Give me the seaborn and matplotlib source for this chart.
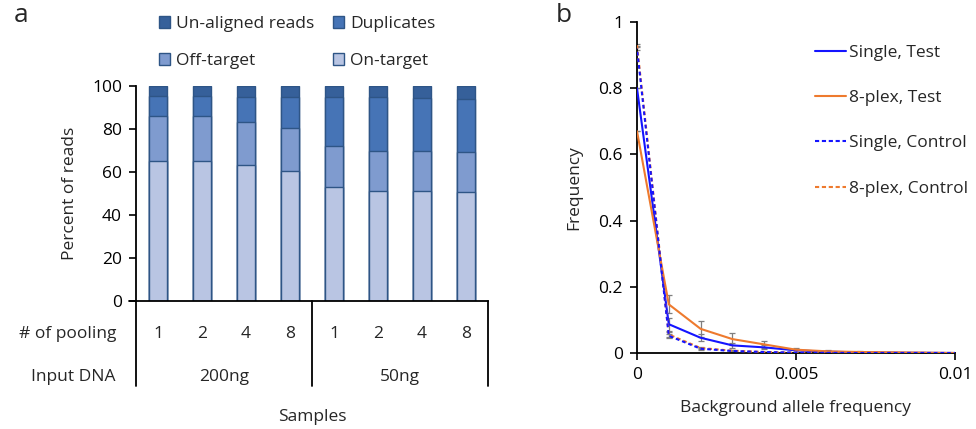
import numpy as np
import pandas as pd
import matplotlib
matplotlib.use("Agg")
import matplotlib.pyplot as plt
import matplotlib.transforms as mtransforms
from matplotlib.patches import Patch
from matplotlib.lines import Line2D
import seaborn as sns

# ---------------- data ----------------
sample_ids = ["S1", "S2", "S3", "S4", "S5", "S6", "S7", "S8"]
pooling = ["1", "2", "4", "8", "1", "2", "4", "8"]
input_dna = ["200ng", "50ng"]
on_target = [65.1, 65.1, 63.3, 60.3, 53.1, 51.1, 51.1, 50.6]
off_target = [20.9, 20.9, 20.0, 20.3, 19.0, 18.7, 18.7, 18.5]
duplicates = [9.4, 9.2, 11.8, 14.5, 22.8, 25.0, 24.6, 25.0]
unaligned = [4.6, 4.8, 4.9, 4.9, 5.1, 5.2, 5.6, 5.9]

bg_freq = [0.0, 0.001, 0.002, 0.003, 0.004, 0.005, 0.006, 0.007, 0.008, 0.009, 0.01]
single_test = [0.80, 0.087, 0.046, 0.023, 0.017, 0.008, 0.004, 0.002, 0.001, 0.0005, 0.0]
plex_test = [0.67, 0.147, 0.073, 0.042, 0.026, 0.010, 0.005, 0.003, 0.002, 0.001, 0.0]
single_ctrl = [0.92, 0.052, 0.013, 0.006, 0.003, 0.001, 0.0005, 0.0, 0.0, 0.0, 0.0]
plex_ctrl = [0.93, 0.056, 0.015, 0.007, 0.003, 0.001, 0.0005, 0.0, 0.0, 0.0, 0.0]
single_test_err = [0.0, 0.02, 0.01, 0.008, 0.006, 0.004, 0.002, 0.001, 0.001, 0.0, 0.0]
plex_test_err = [0.0, 0.027, 0.025, 0.018, 0.010, 0.006, 0.004, 0.002, 0.002, 0.001, 0.0]
single_ctrl_err = [0.004, 0.006, 0.003, 0.002, 0.001, 0.001, 0.0, 0.0, 0.0, 0.0, 0.0]
plex_ctrl_err = [0.004, 0.007, 0.003, 0.002, 0.001, 0.001, 0.0, 0.0, 0.0, 0.0, 0.0]

# ---------------- style ----------------
sns.set_theme(style="ticks")
plt.rcParams["font.family"] = ["Open Sans", "DejaVu Sans"]
plt.rcParams["axes.edgecolor"] = "black"
plt.rcParams["axes.linewidth"] = 1.3
plt.rcParams["xtick.color"] = "black"
plt.rcParams["ytick.color"] = "black"

FS = 12.5
c_on = "#B9C5E3"
c_off = "#7F9BCF"
c_dup = "#4674B6"
c_una = "#36609A"
c_edge = "#2E5586"

fig = plt.figure(figsize=(9.76, 4.29), dpi=100)
W, H = 976, 429

def ax_rect(x0, y0, x1, y1):
    return [x0 / W, 1 - y1 / H, (x1 - x0) / W, (y1 - y0) / H]

# ---------------- panel a ----------------
ax = fig.add_axes(ax_rect(136, 86, 488, 301))
df = pd.DataFrame({
    "sample": sample_ids,
    "on": on_target,
    "off": off_target,
    "dup": duplicates,
    "una": unaligned,
})
df["c_on"] = df["on"]
df["c_off"] = df["c_on"] + df["off"]
df["c_dup"] = df["c_off"] + df["dup"]
df["c_una"] = df["c_dup"] + df["una"]

for col, colr in [("c_una", c_una), ("c_dup", c_dup), ("c_off", c_off), ("c_on", c_on)]:
    sns.barplot(data=df, x="sample", y=col, order=sample_ids, color=colr,
                saturation=1, width=0.41, edgecolor=c_edge, linewidth=1.0, ax=ax)

ax.set_xlim(-0.5, 7.5)
ax.set_ylim(0, 100)
ax.set_yticks([0, 20, 40, 60, 80, 100])
ax.set_yticklabels(["0", "20", "40", "60", "80", "100"], fontsize=FS)
ax.set_xticks([])
ax.set_xlabel("")
ax.set_ylabel("Percent of reads", fontsize=FS, labelpad=10)
ax.tick_params(axis="y", direction="out", length=5, width=1.2, pad=5)
sns.despine(ax=ax)

trans = mtransforms.blended_transform_factory(ax.transData, ax.transAxes)
for i, p in enumerate(pooling):
    ax.text(i, -0.153, p, transform=trans, ha="center", va="center", fontsize=FS)
ax.text(1.5, -0.353, input_dna[0], transform=trans, ha="center", va="center", fontsize=FS)
ax.text(5.5, -0.353, input_dna[1], transform=trans, ha="center", va="center", fontsize=FS)
ax.text(-0.057, -0.153, "# of pooling", transform=ax.transAxes, ha="right", va="center", fontsize=FS)
ax.text(-0.057, -0.353, "Input DNA", transform=ax.transAxes, ha="right", va="center", fontsize=FS)
ax.text(3.5, -0.54, "Samples", transform=trans, ha="center", va="center", fontsize=FS)
for xv in [-0.5, 3.5, 7.5]:
    ax.plot([xv, xv], [0, -0.395], transform=trans, color="black", lw=1.3, clip_on=False)
ax.plot([-0.02, 0], [0, 0], transform=ax.transAxes, color="black", lw=1.3, clip_on=False)

leg_handles = [
    Patch(facecolor=c_una, edgecolor=c_edge, label="Un-aligned reads"),
    Patch(facecolor=c_off, edgecolor=c_edge, label="Off-target"),
    Patch(facecolor=c_dup, edgecolor=c_edge, label="Duplicates"),
    Patch(facecolor=c_on, edgecolor=c_edge, label="On-target"),
]
fig.legend(handles=leg_handles, ncol=2, loc="upper left",
           bbox_to_anchor=(159 / W, 1 - 16 / H), frameon=False, fontsize=FS,
           handlelength=0.65, handleheight=0.65, handletextpad=0.35,
           columnspacing=1.05, labelspacing=1.2, borderpad=0, borderaxespad=0)

fig.text(14 / W, 1 - 15 / H, "a", fontsize=19, ha="left", va="center")

# ---------------- panel b ----------------
bx = fig.add_axes(ax_rect(637, 22, 955, 353))
dfl = pd.DataFrame({"x": bg_freq, "st": single_test, "pt": plex_test,
                    "sc": single_ctrl, "pc": plex_ctrl})
blue = "#1414FF"
orange = "#EE7A2E"
errc = "#7F7F7F"

for yv, ev in [(plex_test, plex_test_err), (single_test, single_test_err),
               (plex_ctrl, plex_ctrl_err), (single_ctrl, single_ctrl_err)]:
    bx.errorbar(bg_freq, yv, yerr=ev, fmt="none", ecolor=errc, elinewidth=0.9,
                capsize=2.5, capthick=0.9, zorder=1)

sns.lineplot(data=dfl, x="x", y="st", color=blue, lw=1.5, ax=bx, zorder=3)
sns.lineplot(data=dfl, x="x", y="pt", color=orange, lw=1.5, ax=bx, zorder=3)
sns.lineplot(data=dfl, x="x", y="pc", color=orange, lw=1.5, ax=bx, zorder=4,
             linestyle=(0, (1.8, 1.4)))
sns.lineplot(data=dfl, x="x", y="sc", color=blue, lw=1.5, ax=bx, zorder=5,
             linestyle=(1.6, (1.8, 1.4)))

bx.set_xlim(0, 0.01)
bx.set_ylim(0, 1)
bx.set_xticks([0, 0.005, 0.01])
bx.set_xticklabels(["0", "0.005", "0.01"], fontsize=FS)
bx.set_yticks([0, 0.2, 0.4, 0.6, 0.8, 1.0])
bx.set_yticklabels(["0", "0.2", "0.4", "0.6", "0.8", "1"], fontsize=FS)
bx.set_xlabel("Background allele frequency", fontsize=FS, labelpad=12)
bx.set_ylabel("Frequency", fontsize=FS, labelpad=12)
bx.tick_params(axis="both", direction="out", length=5, width=1.2, pad=5)
for s in ["left", "bottom"]:
    bx.spines[s].set_clip_on(False)
sns.despine(ax=bx)

lh = [
    Line2D([], [], color=blue, lw=1.5, label="Single, Test"),
    Line2D([], [], color=orange, lw=1.5, label="8-plex, Test"),
    Line2D([], [], color=blue, lw=1.5, linestyle=(0, (2, 1.3)), label="Single, Control"),
    Line2D([], [], color=orange, lw=1.5, linestyle=(0, (2, 1.3)), label="8-plex, Control"),
]
fig.legend(handles=lh, loc="upper left", bbox_to_anchor=(815 / W, 1 - 45 / H),
           frameon=False, fontsize=FS, handlelength=1.8, handletextpad=0.15,
           labelspacing=1.67, borderpad=0, borderaxespad=0)

fig.text(556 / W, 1 - 15 / H, "b", fontsize=19, ha="left", va="center")

fig.savefig("out.png", dpi=100, facecolor="white")
